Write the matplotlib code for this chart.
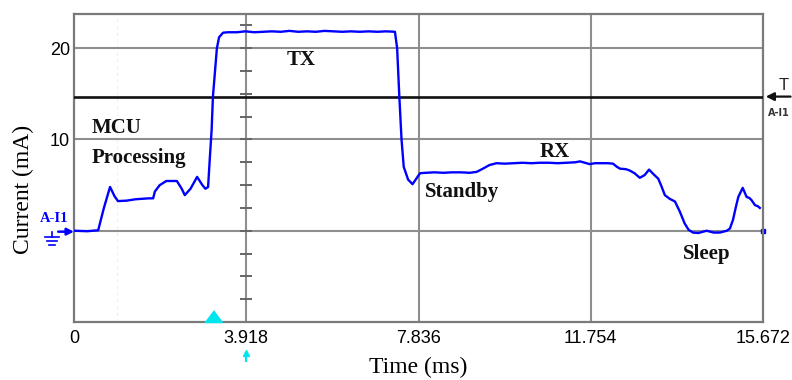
import matplotlib
matplotlib.use("Agg")
import matplotlib.pyplot as plt
from matplotlib.lines import Line2D
from matplotlib.transforms import blended_transform_factory

# current trace (ms, mA)
time_ms = [0.00, 0.30, 0.55, 0.68, 0.82, 0.92, 1.00, 1.20, 1.40, 1.55, 1.70, 1.80,
           1.84, 1.95, 2.10, 2.34, 2.45, 2.52, 2.65, 2.80, 2.92, 2.99, 3.05, 3.09,
           3.13, 3.16, 3.25, 3.30, 3.39, 3.50, 3.70, 3.90, 4.10, 4.30, 4.50, 4.70,
           4.90, 5.10, 5.30, 5.50, 5.70, 5.90, 6.10, 6.30, 6.50, 6.70, 6.90, 7.10,
           7.30, 7.35, 7.40, 7.45, 7.50, 7.60, 7.70, 7.87, 8.00, 8.20, 8.40, 8.60,
           8.80, 9.00, 9.16, 9.30, 9.45, 9.61, 9.80, 10.00, 10.20, 10.40, 10.60,
           10.80, 11.00, 11.20, 11.40, 11.51, 11.62, 11.73, 11.85, 12.00, 12.15,
           12.26, 12.35, 12.42, 12.55, 12.64, 12.75, 12.87, 12.98, 13.08, 13.18,
           13.29, 13.36, 13.44, 13.55, 13.67, 13.78, 13.89, 13.98, 14.08, 14.20,
           14.39, 14.55, 14.69, 14.85, 14.92, 14.99, 15.05, 15.11, 15.21, 15.30,
           15.36, 15.41, 15.49, 15.55, 15.60]
current_ma = [0.00, -0.05, 0.05, 2.50, 4.80, 3.80, 3.25, 3.30, 3.45, 3.50, 3.55, 3.55,
              4.30, 5.00, 5.45, 5.45, 4.60, 3.90, 4.60, 5.90, 5.00, 4.60, 4.80, 8.00,
              11.00, 14.70, 20.00, 21.20, 21.70, 21.75, 21.75, 21.85, 21.75, 21.80, 21.85, 21.80,
              21.90, 21.80, 21.85, 21.80, 21.90, 21.85, 21.80, 21.85, 21.80, 21.85, 21.80, 21.85,
              21.80, 20.00, 14.70, 10.00, 7.00, 5.60, 5.10, 6.30, 6.35, 6.40, 6.35, 6.40,
              6.40, 6.35, 6.45, 6.80, 7.20, 7.40, 7.35, 7.40, 7.45, 7.40, 7.45,
              7.45, 7.40, 7.45, 7.50, 7.60, 7.45, 7.30, 7.40, 7.40, 7.40,
              7.35, 7.00, 6.80, 6.75, 6.60, 6.30, 5.80, 6.10, 6.70, 6.20,
              5.70, 4.90, 3.90, 3.50, 3.20, 2.10, 0.80, 0.10, -0.20, -0.25,
              0.00, -0.20, -0.20, 0.00, 0.25, 1.20, 2.50, 3.70, 4.70, 3.70,
              3.60, 3.36, 2.80, 2.70, 2.50]

x_ticks = [0, 3.918, 7.836, 11.754, 15.672]
x_labels = ["0", "3.918", "7.836", "11.754", "15.672"]
y_grid = [0, 10, 20]
y_labels = ["", "10", "20"]
center_ticks = [-7.5, -5, -2.5, 0, 2.5, 5, 7.5, 10, 12.5, 15, 17.5, 20, 22.5]
trigger_ms = 3.16
trigger_level = 14.7

phases = ["MCU", "Processing", "TX", "Standby", "RX", "Sleep"]
phase_t = [0.41, 0.41, 5.16, 7.98, 10.94, 14.40]
phase_i = [11.25, 7.95, 18.7, 4.2, 8.6, -2.6]
phase_ha = ["left", "left", "center", "left", "center", "center"]

grid_col = "#8e8e8e"
blue = "#0000ff"
cyan = "#00e5ee"

fig = plt.figure(figsize=(7.92, 3.80), dpi=100)
ax = fig.add_axes([74 / 792, 58 / 380, 689 / 792, 308 / 380])
ax.set_xlim(0, 15.672)
ax.set_ylim(-10, 23.75)

for s in ax.spines.values():
    s.set_color("#7a7a7a")
    s.set_linewidth(1.6)

ax.set_xticks(x_ticks)
ax.set_xticklabels(x_labels, family="Liberation Sans", fontsize=13)
ax.set_yticks(y_grid)
ax.set_yticklabels(y_labels, family="Liberation Sans", fontsize=13)
ax.tick_params(length=0)
ax.tick_params(axis="x", pad=6)
ax.tick_params(axis="y", pad=3)

for xv in x_ticks[1:-1]:
    ax.axvline(xv, color=grid_col, lw=1.5, zorder=1)
for yv in y_grid:
    ax.axhline(yv, color=grid_col, lw=1.5, zorder=1)
ax.axvline(0.98, color="#efefef", lw=0.8, ls=(0, (3, 3)), zorder=0)

# small division marks on the centre line
ax.plot([x_ticks[1]] * len(center_ticks), center_ticks, ls="none", marker="_",
        markersize=9, mew=1.4, color="#666666", zorder=2)

# trigger level
ax.axhline(trigger_level, color="#111111", lw=1.9, zorder=3)

ax.plot(time_ms, current_ma, color=blue, lw=1.7, zorder=4)
ax.plot([15.672], [0], ls="none", marker="s", markersize=2.5, color=blue, clip_on=False)

for txt, tx, ty, ha in zip(phases, phase_t, phase_i, phase_ha):
    ax.text(tx, ty, txt, ha=ha, va="center", family="Liberation Serif",
            fontweight="bold", fontsize=15, color="#111111", zorder=5)

ax.set_xlabel("Time (ms)", family="Liberation Serif", fontsize=17, va="center")
ax.xaxis.set_label_coords(0.499, -0.149)
ax.set_ylabel("Current (mA)", family="Liberation Serif", fontsize=17, va="center")
ax.yaxis.set_label_coords(-0.074, 0.432)

# trigger markers
tri = [(-0.75, 0), (0.75, 0), (0, 1)]
ax.plot([trigger_ms], [-10], marker=tri, markersize=17, color=cyan, ls="none",
        clip_on=False, zorder=6)
bx = blended_transform_factory(ax.transData, ax.transAxes)
ax.plot([x_ticks[1]], [-0.1], marker="^", markersize=5, color=cyan, ls="none",
        transform=bx, clip_on=False)
ax.plot([x_ticks[1]] * 2, [-0.11, -0.125], color=cyan, lw=1.5, transform=bx,
        clip_on=False)

by = blended_transform_factory(ax.transAxes, ax.transData)
ax.annotate("", xy=(1.004, trigger_level), xycoords=by, xytext=(1.04, trigger_level),
            textcoords=by, arrowprops=dict(arrowstyle="-|>", color="#111111", lw=1.6,
                                           mutation_scale=12, shrinkA=0, shrinkB=0))
ax.text(1.030, 15.95, "T", transform=by, ha="center", va="center",
        family="Liberation Sans", fontsize=12, color="#222222")
ax.text(1.023, 12.9, "A-I1", transform=by, ha="center", va="center",
        family="Liberation Sans Narrow", fontsize=7, fontweight="bold", color="#333333")

# channel marker on the left
ax.text(-0.029, 1.3, "A-I1", transform=by, ha="center", va="center",
        family="Liberation Serif", fontsize=10.5, fontweight="bold", color=blue)
ax.annotate("", xy=(0.0, -0.1), xycoords=by, xytext=(-0.023, -0.1), textcoords=by,
            arrowprops=dict(arrowstyle="-|>", color=blue, lw=1.8,
                            mutation_scale=10, shrinkA=0, shrinkB=0))
for dy, half in [(-0.7, 0.010), (-1.15, 0.007), (-1.6, 0.004)]:
    ax.add_line(Line2D([-0.032 - half, -0.032 + half], [dy, dy], color=blue, lw=1.2,
                       transform=by, clip_on=False))
ax.add_line(Line2D([-0.032, -0.032], [-0.1, -0.7], color=blue, lw=1.2,
                   transform=by, clip_on=False))

fig.savefig("out.png", dpi=100)
